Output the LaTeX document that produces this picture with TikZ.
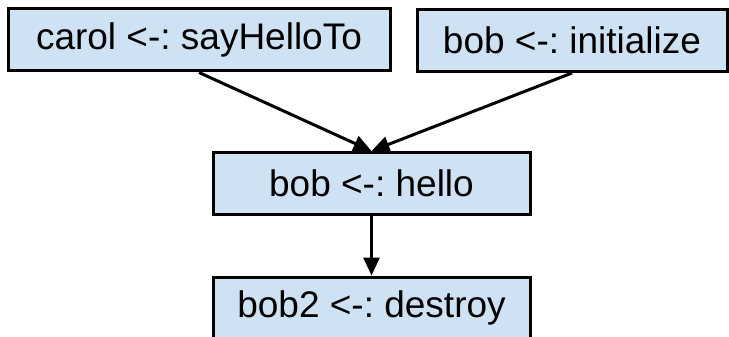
\documentclass[tikz,border=0pt]{standalone}
\usepackage{fontspec}
\setmainfont{Liberation Sans}
\usepackage{xcolor}
\usetikzlibrary{arrows.meta}
\definecolor{boxblue}{HTML}{CFE2F3}
\frenchspacing

\begin{document}
\begin{tikzpicture}[x=1pt,y=-1pt,
  msg/.style={draw=black,fill=boxblue,line width=3pt,inner sep=0pt,
    minimum height=62pt,font=\fontsize{37}{44}\selectfont},
  send/.style={line width=3pt,-{Triangle[length=18pt,width=16pt]}}]
\useasboundingbox (0,0) rectangle (729,337);
\clip (0,0) rectangle (729,337);
  \node[msg,minimum width=382pt] (carol) at (199,40) {carol <-: sayHelloTo};
  \node[msg,minimum width=310pt] (init) at (572,40.5) {bob <-: initialize};
  \node[msg,minimum width=317pt] (hello) at (371.5,183.5) {bob <-: hello};
  \node[msg,minimum width=317pt] (destroy) at (371.5,308) {bob2 <-: destroy};
  \draw[send] (carol.south) -- (hello.north);
  \draw[send] (init.south) -- (hello.north);
  \draw[send] (hello.south) -- (destroy.north);
\end{tikzpicture}
\end{document}
